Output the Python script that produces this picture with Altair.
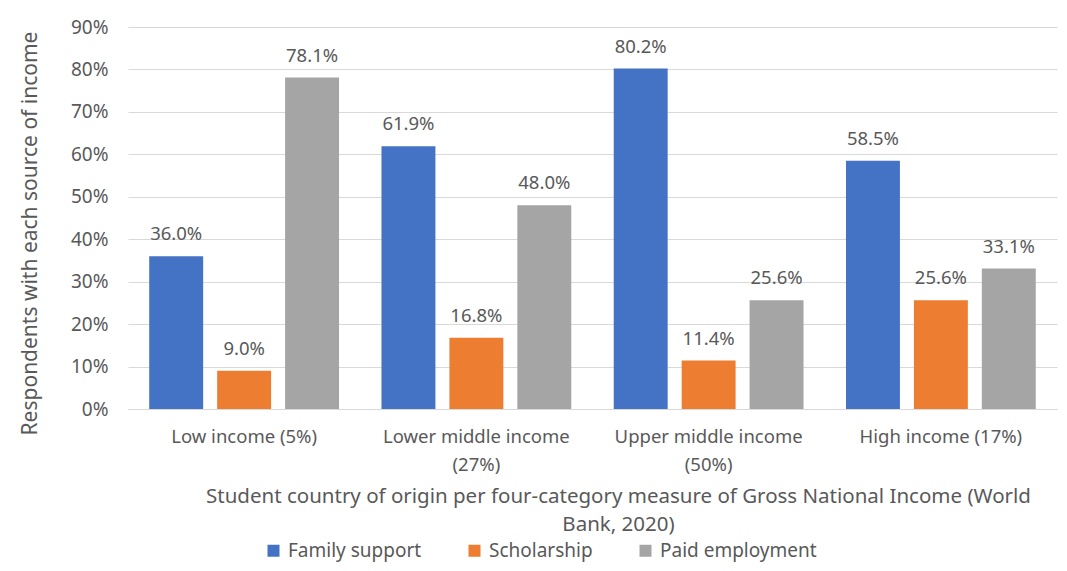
import altair as alt
import pandas as pd

categories = ["Low income (5%)", "Lower middle income (27%)", "Upper middle income (50%)", "High income (17%)"]
series = ["Family support", "Scholarship", "Paid employment"]
family = [0.360, 0.619, 0.802, 0.585]
scholarship = [0.090, 0.168, 0.114, 0.256]
paid = [0.781, 0.480, 0.256, 0.331]
colors = ["#4472C4", "#ED7D31", "#A5A5A5"]

rows = []
for i, c in enumerate(categories):
    for s, vals in zip(series, [family, scholarship, paid]):
        rows.append({"category": c, "series": s, "value": vals[i]})
df = pd.DataFrame(rows)

FONT = "Noto Sans"
TXT = "#595959"

label_expr = ("indexof(datum.label, 'middle') >= 0 ? "
              "[slice(datum.label, 0, indexof(datum.label, ' (')), "
              "slice(datum.label, indexof(datum.label, ' (') + 1)] : datum.label")

base = alt.Chart(df).encode(
    x=alt.X("category:N", sort=categories,
            scale=alt.Scale(paddingInner=0, paddingOuter=0),
            axis=alt.Axis(
                title=["Student country of origin per four-category measure of Gross National Income (World",
                       "Bank, 2020)"],
                labelExpr=label_expr, labelAngle=0, labelPadding=18, labelLimit=400,
                labelLineHeight=28, labelFontSize=18.5, labelColor=TXT, labelFont=FONT,
                ticks=False, domainColor="#D9D9D9",
                titleFont=FONT, titleFontSize=20.5, titleFontWeight="normal", titleColor=TXT,
                titleLineHeight=28, titleX=490, titleY=77, titleAlign="center", titleBaseline="top",
                titleAnchor="middle", titleLimit=1000)),
    xOffset=alt.XOffset("series:N", sort=series,
                        scale=alt.Scale(paddingInner=0.206, paddingOuter=0.3125)),
    y=alt.Y("value:Q", scale=alt.Scale(domain=[0, 0.9], nice=False),
            axis=alt.Axis(title="Respondents with each source of income", format="%",
                          values=[i / 10 for i in range(10)],
                          labelFontSize=19, labelColor=TXT, labelFont=FONT, labelPadding=20,
                          ticks=False, domain=False, gridColor="#D9D9D9",
                          titleFont=FONT, titleFontSize=21, titleFontWeight="normal", titleColor=TXT,
                          titleX=-98, titleY=206, titleAngle=-90, titleAlign="center",
                          titleBaseline="middle", titleLimit=1000)),
)

bars = base.mark_bar().encode(
    color=alt.Color("series:N", sort=series, scale=alt.Scale(domain=series, range=colors),
                    legend=alt.Legend(title=None, orient="none", legendX=136, legendY=514,
                                      direction="horizontal", symbolType="square", symbolSize=144,
                                      symbolStrokeWidth=0, labelFontSize=19, labelFont=FONT,
                                      labelColor=TXT, labelOffset=5, columnPadding=43,
                                      labelLimit=400))
)

labels = base.mark_text(dy=-16, baseline="alphabetic", fontSize=18.5, font=FONT, color=TXT).encode(
    text=alt.Text("value:Q", format=".1%")
)

chart = alt.layer(bars, labels).properties(
    width=929, height=382,
    autosize=alt.AutoSizeParams(type="none"),
    padding={"left": 120, "top": 19, "right": 2, "bottom": 154},
    background="white",
).configure_view(stroke=None)

chart.save("out.html", embed_options={"renderer": "svg", "actions": False})
